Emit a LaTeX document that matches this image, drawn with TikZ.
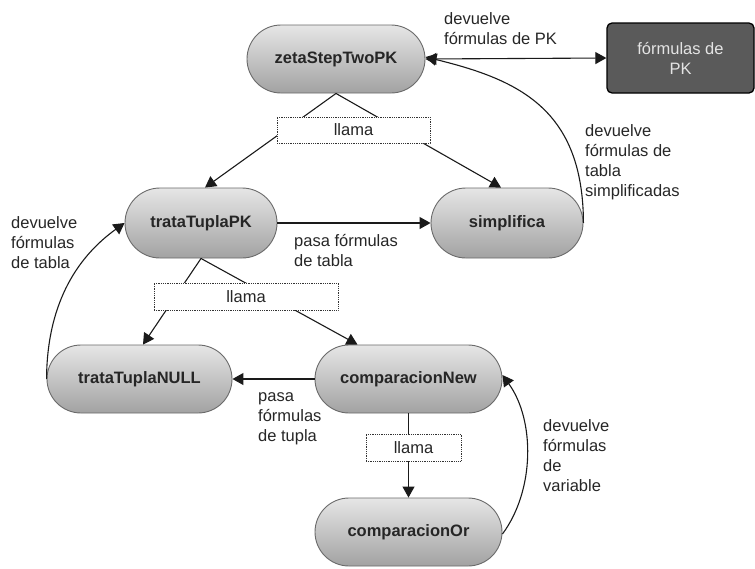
\documentclass[tikz,border=0pt]{standalone}
\usepackage{fontspec}
\setmainfont{Liberation Sans}
\usetikzlibrary{shapes.misc,arrows.meta}

\definecolor{edgecol}{HTML}{1A1A1A}
\definecolor{procborder}{HTML}{6A6A6A}
\definecolor{proctop}{HTML}{E6E6E6}
\definecolor{procbottom}{HTML}{A2A2A2}
\definecolor{datafill}{HTML}{5A5A5A}
\definecolor{datatext}{HTML}{E4E4E4}

\tikzset{
  proc/.style={rounded rectangle, draw=procborder, line width=0.9pt,
    top color=proctop, bottom color=procbottom, inner sep=0pt,
    font=\fontsize{16.5}{20}\selectfont\bfseries, text=black!85},
  datastore/.style={rectangle, rounded corners=5pt, draw=black, line width=1.3pt,
    fill=datafill, text=datatext, align=center, inner sep=0pt,
    font=\fontsize{16.5}{20}\selectfont},
  callbox/.style={rectangle, draw=black!80, densely dotted, line width=0.8pt,
    fill=white, inner sep=0pt, font=\fontsize{16.5}{20}\selectfont, text=black!85},
  note/.style={align=left, inner sep=0pt, anchor=west,
    font=\fontsize{16.5}{20}\selectfont, text=black!85},
  flow/.style={draw=edgecol, line width=1.1pt,
    -{Triangle[length=11pt,width=12pt]}},
  flowboth/.style={draw=edgecol, line width=1.1pt,
    {Triangle[length=11pt,width=12pt]}-{Triangle[length=11pt,width=12pt]}},
  plain/.style={draw=edgecol, line width=1.1pt}
}

\begin{document}
\begin{tikzpicture}[x=1pt,y=-1pt]
\useasboundingbox (0,0) rectangle (755,568);

% process nodes
\node[proc, minimum width=178pt, minimum height=68pt] (zeta) at (336,59) {zetaStepTwoPK};
\node[proc, minimum width=152pt, minimum height=70pt] (tpk) at (201,223) {trataTuplaPK};
\node[proc, minimum width=152pt, minimum height=70pt] (simp) at (507,223) {simplifica};
\node[proc, minimum width=185pt, minimum height=68pt] (tnull) at (139.5,379) {trataTuplaNULL};
\node[proc, minimum width=187pt, minimum height=68pt] (cnew) at (408.5,379) {comparacionNew};
\node[proc, minimum width=187pt, minimum height=68pt] (cor) at (408.5,532) {comparacionOr};

% output data
\node[datastore, minimum width=147pt, minimum height=70pt] (pk) at (680.5,58) {fórmulas de\\PK};

% call edges
\draw[flow] (zeta.south) -- ([xshift=4pt]tpk.north);
\draw[flow] (zeta.south) -- ([xshift=-6pt]simp.north);
\draw[flow] (tpk.south) -- ([xshift=3.5pt]tnull.north);
\draw[flow] (tpk.south) -- ([xshift=-51pt]cnew.north);
\draw[flow] (cnew.south) -- (cor.north);

% call labels
\node[callbox, minimum width=153pt, minimum height=26pt] (call1) at (353.5,130) {llama};
\node[callbox, minimum width=184pt, minimum height=27pt] (call2) at (246,296.5) {llama};
\node[callbox, minimum width=95pt, minimum height=27pt] (call3) at (413.5,447.5) {llama};

% data passed along
\draw[flowboth] (zeta.east) -- (pk.west);
\draw[flow] (tpk.east) -- (simp.west);
\draw[flow] (cnew.west) -- (tnull.east);

% returned results
\draw[flow] (simp.east) .. controls (583,110) and (520,80) .. ([yshift=2pt]zeta.east);
\draw[flow] (tnull.west) .. controls (47,300) and (80,255) .. (tpk.west);
\draw[flow] ([yshift=-2pt]cor.east) .. controls (535,490) and (535,420) .. ([yshift=4pt]cnew.east);

% edge notes
\node[note] (n1) at (444,29) {devuelve\\fórmulas de PK};
\node[note] (n2) at (585,162) {devuelve\\fórmulas de\\tabla\\simplificadas};
\node[note] (n3) at (294,251) {pasa fórmulas\\de tabla};
\node[note] (n4) at (11,243) {devuelve\\fórmulas\\de tabla};
\node[note] (n5) at (258,419) {pasa\\fórmulas\\de tupla};
\node[note] (n6) at (543,456) {devuelve\\fórmulas\\de\\variable};
\end{tikzpicture}
\end{document}
